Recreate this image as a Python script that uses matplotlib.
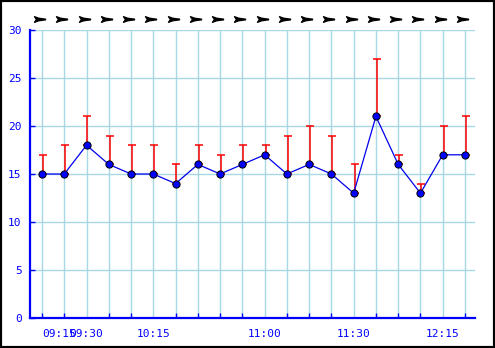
import numpy as np
import matplotlib
matplotlib.use('Agg')
import matplotlib.pyplot as plt
from matplotlib.path import Path
from matplotlib.patches import Rectangle
import matplotlib.transforms as mtransforms

#---- chart data
values = [15, 15, 18, 16, 15, 15, 14, 16, 15, 16, 17, 15, 16, 15, 13, 21, 16, 13, 17, 17]
highs = [17, 18, 21, 19, 18, 18, 16, 18, 17, 18, 18, 19, 20, 19, 16, 27, 17, 14, 20, 21]
tickPos = [0.77, 2, 5, 10, 14, 18]
tickLabels = ['09:15', '09:30', '10:15', '11:00', '11:30', '12:15']
yTicks = [0, 5, 10, 15, 20, 25, 30]

x = np.arange(len(values))
vals = np.array(values)
hi = np.array(highs)

fig = plt.figure(figsize=(4.95, 3.48), dpi=100)
ax = fig.add_axes([30/495, 30/348, 445/495, 288/348])

ax.set_xlim(-0.54, 19.45)
ax.set_ylim(0, 30)

#---- grid
for yy in yTicks[1:]:
    ax.axhline(yy, color='#a8d8e4', lw=1, zorder=1)
for xx in x:
    ax.axvline(xx, color='#a8d8e4', lw=1, zorder=1)

#---- max bars
ax.errorbar(x + 0.04, vals, yerr=[np.zeros(len(vals)), hi - vals], fmt='none',
            ecolor='red', elinewidth=1.1, capsize=2.6, capthick=1.1, zorder=3)

#---- series line
ax.plot(x, vals, color='#0000ee', lw=0.9, zorder=4)
ax.plot(x, vals, 'o', color='#0000ff', markeredgecolor='black', markeredgewidth=0.7,
        markersize=5.2, zorder=5)

#---- arrows along the top (swallowtail dart with a thin stem)
arrowPath = Path([(-8, 2.8), (-4, 1.3), (0, 0.7), (3, 0.35), (3, -0.35), (0, -0.7),
                  (-4, -1.3), (-8, -2.8), (-6, 0), (-8, 2.8)],
                 [Path.MOVETO] + [Path.LINETO] * 8 + [Path.CLOSEPOLY])
trans = mtransforms.blended_transform_factory(ax.transData, ax.transAxes)
ax.plot(x, np.full(len(x), 1 + 11/288), linestyle='none', marker=arrowPath, color='black',
        markersize=11.5, transform=trans, clip_on=False)

#---- spines
for s in ['top', 'right']:
    ax.spines[s].set_visible(False)
for s in ['left', 'bottom']:
    ax.spines[s].set_color('#0000ff')
    ax.spines[s].set_linewidth(1.6)

ax.set_yticks(yTicks)
ax.set_yticklabels([str(t) for t in yTicks])
ax.tick_params(axis='y', direction='in', length=3.6, width=1, color='#0000ff',
               labelcolor='#0000ff', labelsize=8, pad=6)

ax.set_xticks(tickPos)
ax.set_xticklabels(tickLabels)
ax.set_xticks(x, minor=True)
ax.tick_params(axis='x', which='major', length=0, labelcolor='#0000ff', labelsize=8, pad=8)
ax.tick_params(axis='x', which='minor', direction='in', length=3.6, width=1, color='#0000ff')
for lab in ax.get_xticklabels() + ax.get_yticklabels():
    lab.set_family('DejaVu Sans Mono')

fig.patches.append(Rectangle((0, 0), 1, 1, transform=fig.transFigure, fill=False,
                             edgecolor='black', lw=3))

fig.savefig('out.png', dpi=100)
